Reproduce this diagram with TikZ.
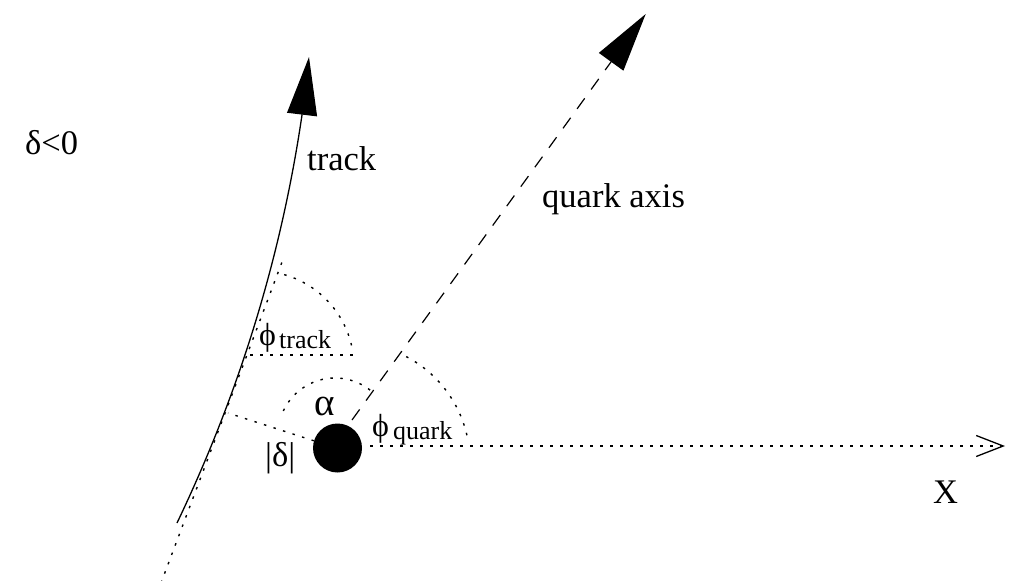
\documentclass[tikz,border=0pt]{standalone}
\usepackage{fontspec}
\setmainfont{Liberation Serif}
\usetikzlibrary{arrows.meta}
\begin{document}
\begin{tikzpicture}[x=1pt,y=-1pt,
  dotline/.style={line width=1.4pt, dash pattern=on 2.5pt off 7.5pt},
  lbl/.style={inner sep=0pt, anchor=base west, font=\fontsize{34.5}{40}\selectfont},
  phil/.style={inner sep=0pt, anchor=base west, font=\fontsize{32}{36}\selectfont},
  sublbl/.style={inner sep=0pt, anchor=base west, font=\fontsize{26}{30}\selectfont}]
\useasboundingbox (0,0) rectangle (1021,581);

% vertex
\node[circle, fill, minimum size=49pt, inner sep=0pt] (ball) at (337.5,448) {};

% quark axis
\coordinate (qs) at (352,420);
\coordinate (qt) at (645.7,14);
\draw[line width=1.2pt, dash pattern=on 13pt off 11pt, -{Triangle[length=59pt,width=30pt]}] (qs) -- (qt);

% track
\coordinate (tb) at (177,523);
\coordinate (tt) at (309,57);
\draw[line width=1.3pt, -{Triangle[length=58pt,width=30pt]}] (tb) .. controls (242,387) and (282,251) .. (302,115) -- (tt);

% tangent to the track
\coordinate (ta) at (161,583);
\coordinate (tz) at (282,262);
\draw[dotline] (ta) -- (tz);

% impact parameter
\coordinate (dp) at (228,413);
\draw[dotline] (ball.163) -- (dp);

% X axis
\coordinate (xs) at (370,446);
\coordinate (xe) at (1005,446);
\draw[dotline, -{Straight Barb[length=27pt,width=21pt,line width=1.3pt]}] (xs) -- (xe);

% horizontal reference for phi_track
\coordinate (h1) at (250,355);
\coordinate (h2) at (358,355);
\draw[dotline] (h1) -- (h2);

% angle arcs
\draw[dotline] plot[smooth, domain=13:78, samples=30] ({258+96*cos(\x)}, {367-96*sin(\x)});
\draw[dotline] plot[smooth, domain=52:160, samples=40] ({335+57*cos(\x)}, {435-57*sin(\x)});
\draw[dotline] plot[smooth, domain=13:64, samples=30] ({351+119*cos(\x)}, {462-119*sin(\x)});

% labels
\node[lbl] (dl) at (25,154) {δ<0};
\node[lbl] (trk) at (307,170) {track};
\node[lbl] (qa) at (542,207) {quark axis};
\node[lbl] (xl) at (933,503) {X};
\node[lbl, font=\fontsize{39}{44}\selectfont] (al) at (314,415) {α};
\node[lbl] (dd) at (265,466) {|δ|};
\node[phil] (pt) at (259,345) {ϕ};
\node[sublbl] (pts) at (279,348) {track};
\node[phil] (pq) at (372,436) {ϕ};
\node[sublbl] (pqs) at (393,439) {quark};
\end{tikzpicture}
\end{document}
